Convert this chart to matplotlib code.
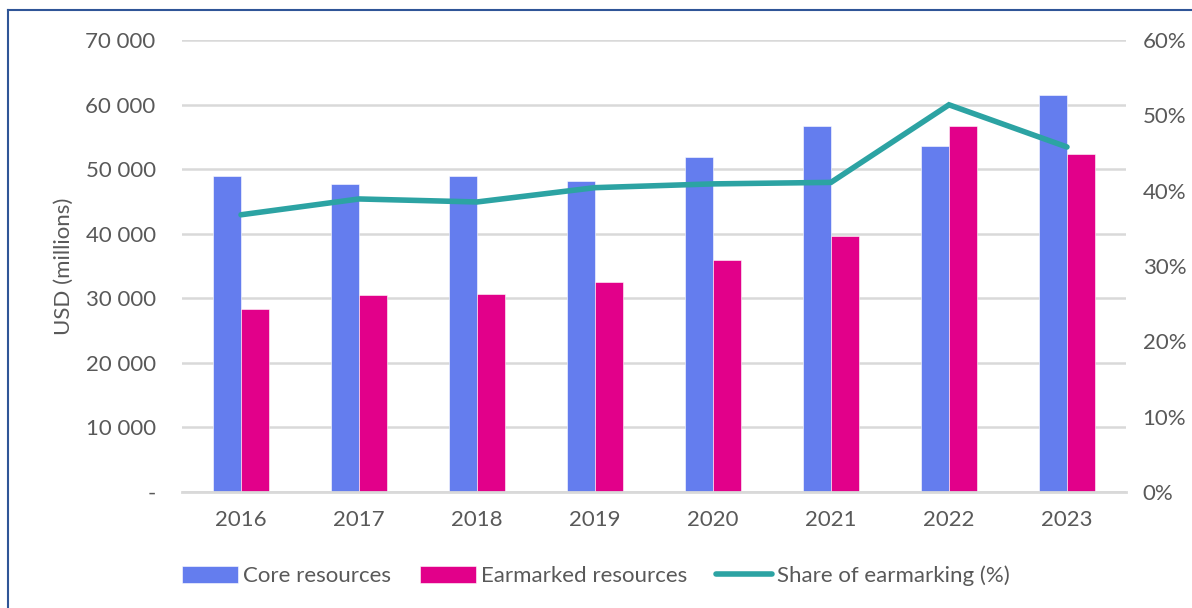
import numpy as np
import matplotlib
matplotlib.use("Agg")
import matplotlib.pyplot as plt
from matplotlib.lines import Line2D
from matplotlib.ticker import FuncFormatter, MultipleLocator

years = ["2016", "2017", "2018", "2019", "2020", "2021", "2022", "2023"]
core = [48950, 47750, 48900, 48150, 51900, 56650, 53550, 61450]
earmarked = [28350, 30500, 30650, 32550, 35950, 39600, 56650, 52300]
share = [36.8, 38.9, 38.5, 40.4, 40.9, 41.1, 51.4, 45.8]

TEXT = "#595959"
GRID = "#D9D9D9"
BLUE = "#647DEE"
PINK = "#E2008A"
TEAL = "#2CA3A3"

plt.rcParams["font.family"] = ["Lato", "DejaVu Sans"]

fig = plt.figure(figsize=(11.92, 6.08), dpi=100)
ax = fig.add_axes([0.1527, 0.1908, 0.7919, 0.7434])
ax2 = ax.twinx()

x = np.arange(len(years))
w = 0.237
ax.bar(x - w / 2, core, width=w, color=BLUE, edgecolor="white", linewidth=0.4, label="Core resources", zorder=2)
ax.bar(x + w / 2, earmarked, width=w, color=PINK, edgecolor="white", linewidth=0.4, label="Earmarked resources", zorder=2)
line, = ax2.plot(x, share, color=TEAL, linewidth=4, solid_capstyle="round", solid_joinstyle="miter",
                 label="Share of earmarking (%)")

ax.set_xlim(-0.5, len(years) - 0.5)
ax.set_ylim(0, 70000)
ax2.set_ylim(0, 60)
ax.yaxis.set_major_locator(MultipleLocator(10000))
ax2.yaxis.set_major_locator(MultipleLocator(10))


def thousands(v, pos):
    if v == 0:
        return "-"
    return f"{int(v):,}".replace(",", " ")


ax.yaxis.set_major_formatter(FuncFormatter(thousands))
ax2.yaxis.set_major_formatter(FuncFormatter(lambda v, p: f"{int(v)}%"))
ax.set_xticks(x)
ax.set_xticklabels(years)

ax.grid(axis="y", color=GRID, linewidth=1.8, zorder=0)
ax.set_axisbelow(True)
for a in (ax, ax2):
    for s in a.spines.values():
        s.set_visible(False)
    a.tick_params(length=0, labelsize=16, colors=TEXT)
ax.spines["bottom"].set_visible(True)
ax.spines["bottom"].set_color(GRID)
ax.spines["bottom"].set_linewidth(2)
ax.tick_params(axis="y", pad=19)
ax.tick_params(axis="x", pad=13)
ax2.tick_params(axis="y", pad=12)

ax.set_ylabel("USD (millions)", fontsize=16, color=TEXT, labelpad=8)

handles = [ax.patches[0], ax.patches[len(years)], line]
labels = ["Core resources", "Earmarked resources", "Share of earmarking (%)"]
fig.legend(handles, labels, loc="center", bbox_to_anchor=(0.5, 1 - 576 / 608), ncol=3,
           frameon=False, fontsize=16, labelcolor=TEXT, handlelength=2.5, handleheight=0.8,
           handletextpad=0.25, columnspacing=1.3)

# outer frame
fig.add_artist(Line2D([8 / 1192, 8 / 1192], [0, 1 - 10 / 608], color="#2F5597", linewidth=1.5))
fig.add_artist(Line2D([8 / 1192, 1], [1 - 10 / 608, 1 - 10 / 608], color="#2F5597", linewidth=1.5))

fig.savefig("out.png", dpi=100)
